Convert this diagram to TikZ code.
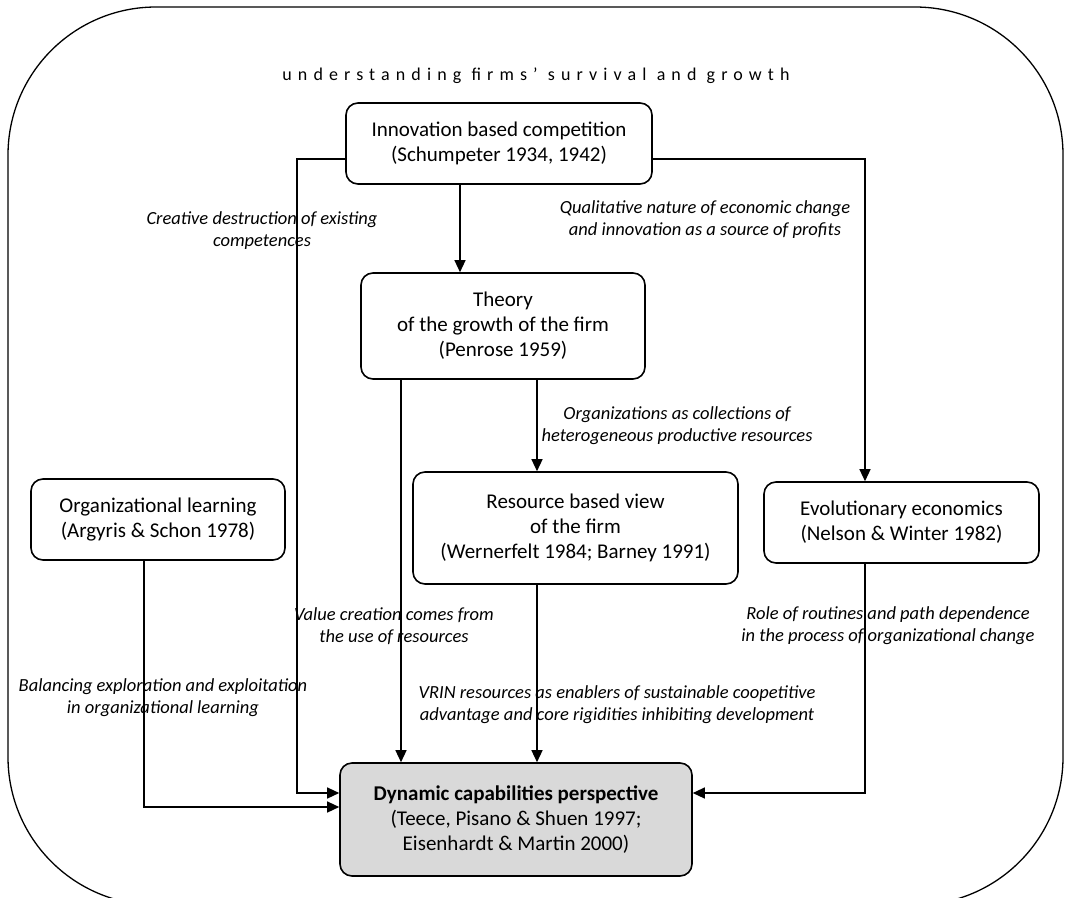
\documentclass[tikz,border=0pt]{standalone}
\usepackage{fontspec}
\setmainfont{Carlito}
\usetikzlibrary{arrows.meta}
\definecolor{dynfill}{RGB}{217,217,217}
\begin{document}
\begin{tikzpicture}[x=1pt,y=-1pt,
 box/.style={draw, line width=1.6pt, rounded corners=12pt, align=center, inner sep=0pt, font=\fontsize{21}{25}\selectfont},
 lbl/.style={align=center, inner sep=0pt, font=\fontsize{18.5}{22}\selectfont\itshape},
 conn/.style={line width=1.3pt},
 arr/.style={conn, -{Triangle[length=12pt,width=11pt]}}]
\useasboundingbox (0,0) rectangle (1065,897);
\draw[line width=1.3pt, rounded corners=148pt] (8,7) rectangle (1063,905);
\node[inner sep=0pt, font=\fontsize{18}{20}\selectfont\addfontfeature{LetterSpace=34}] (title) at (536,76) {understanding firms’ survival and growth};
\node[box, minimum width=306pt, minimum height=81pt] (inno) at (499,143.5) {Innovation based competition\\(Schumpeter 1934, 1942)};
\node[box, minimum width=284pt, minimum height=106pt] (theory) at (503,326) {Theory\\of the growth of the firm\\(Penrose 1959)};
\node[box, minimum width=254pt, minimum height=81pt] (org) at (158,519.5) {Organizational learning\\(Argyris \& Schon 1978)};
\node[box, minimum width=325pt, minimum height=112pt] (rbv) at (575.5,528) {Resource based view\\of the firm\\(Wernerfelt 1984; Barney 1991)};
\node[box, minimum width=275pt, minimum height=81pt] (evo) at (901.5,522.5) {Evolutionary economics\\(Nelson \& Winter 1982)};
\node[box, fill=dynfill, minimum width=352pt, minimum height=113pt] (dyn) at (516,819.5) {\textbf{Dynamic capabilities perspective}\\(Teece, Pisano \& Shuen 1997;\\Eisenhardt \& Martin 2000)};
\node[lbl] (l1) at (262,231) {Creative destruction of existing\\competences};
\node[lbl] (l2) at (705,220) {Qualitative nature of economic change\\and innovation as a source of profits};
\node[lbl] (l3) at (677,426) {Organizations as collections of\\heterogeneous productive resources};
\node[lbl] (l4) at (394,626.5) {Value creation comes from\\the use of resources};
\node[lbl] (l5) at (888,625.5) {Role of routines and path dependence\\in the process of organizational change};
\node[lbl] (l6) at (163,698) {Balancing exploration and exploitation\\in organizational learning};
\node[lbl] (l7) at (617,704.5) {VRIN resources as enablers of sustainable coopetitive\\advantage and core rigidities inhibiting development};
\coordinate (xA) at (297,0);
\coordinate (xB) at (460,0);
\coordinate (xC) at (865,0);
\coordinate (xD) at (401,0);
\coordinate (xE) at (537,0);
\coordinate (xF) at (144,0);
\coordinate (yA) at (0,793);
\coordinate (yB) at (0,807);
\coordinate (yI) at (0,159);
\draw[arr] (inno.west |- yI) -| (xA |- yA) -- (dyn.west |- yA);
\draw[arr] (inno.south -| xB) -- (theory.north -| xB);
\draw[arr] (inno.east |- yI) -| (evo.north -| xC);
\draw[arr] (theory.south -| xD) -- (dyn.north -| xD);
\draw[arr] (theory.south -| xE) -- (rbv.north -| xE);
\draw[arr] (rbv.south -| xE) -- (dyn.north -| xE);
\draw[arr] (org.south -| xF) |- (dyn.west |- yB);
\draw[arr] (evo.south -| xC) |- (dyn.east |- yA);
\end{tikzpicture}
\end{document}
